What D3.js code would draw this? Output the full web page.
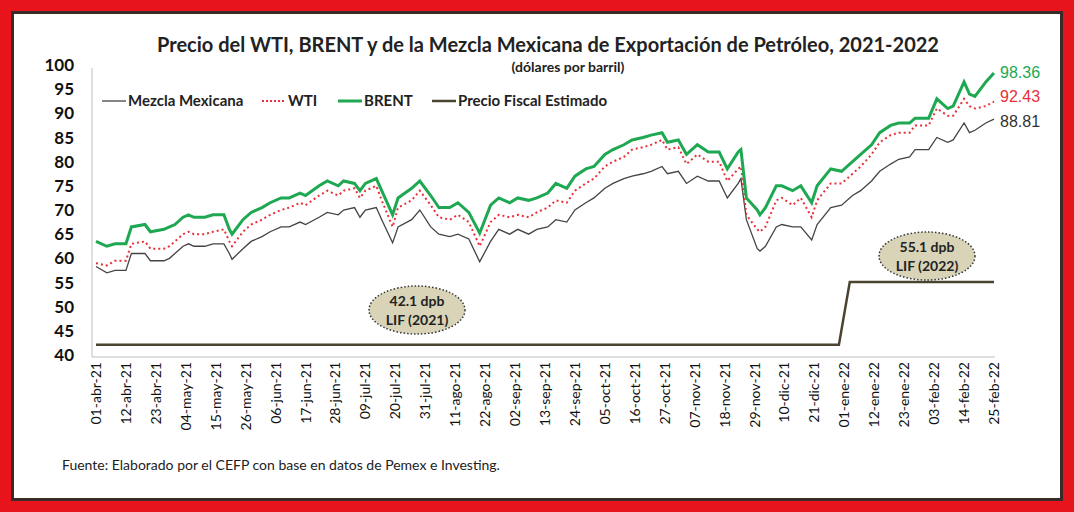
<!DOCTYPE html>
<html><head><meta charset="utf-8">
<script src="https://cdn.jsdelivr.net/npm/d3@7"></script>
<style>body{margin:0;background:#fff;}svg{display:block;font-family:Lato,"Open Sans",sans-serif;}</style>
</head><body><svg id="c" width="1074" height="512"></svg>
<script>
const dates = ["2021-04-01","2021-04-05","2021-04-08","2021-04-12","2021-04-14","2021-04-19","2021-04-21","2021-04-26","2021-04-28","2021-04-30","2021-05-03","2021-05-05","2021-05-07","2021-05-11","2021-05-14","2021-05-18","2021-05-20","2021-05-21","2021-05-25","2021-05-28","2021-06-01","2021-06-04","2021-06-08","2021-06-11","2021-06-15","2021-06-17","2021-06-22","2021-06-25","2021-06-29","2021-07-01","2021-07-05","2021-07-07","2021-07-09","2021-07-13","2021-07-15","2021-07-19","2021-07-21","2021-07-26","2021-07-29","2021-08-02","2021-08-05","2021-08-09","2021-08-12","2021-08-16","2021-08-20","2021-08-24","2021-08-27","2021-08-31","2021-09-03","2021-09-07","2021-09-10","2021-09-14","2021-09-17","2021-09-21","2021-09-24","2021-09-28","2021-10-01","2021-10-05","2021-10-08","2021-10-12","2021-10-15","2021-10-19","2021-10-22","2021-10-26","2021-10-28","2021-11-01","2021-11-04","2021-11-08","2021-11-12","2021-11-16","2021-11-19","2021-11-23","2021-11-24","2021-11-26","2021-11-30","2021-12-01","2021-12-03","2021-12-07","2021-12-09","2021-12-13","2021-12-16","2021-12-20","2021-12-22","2021-12-27","2021-12-31","2022-01-04","2022-01-07","2022-01-11","2022-01-14","2022-01-18","2022-01-21","2022-01-25","2022-01-27","2022-02-01","2022-02-04","2022-02-08","2022-02-10","2022-02-14","2022-02-16","2022-02-18","2022-02-22","2022-02-25"];
const brent = [63.5,62.5,63,63,66.5,67,65.5,66,66.5,67,68.5,69,68.5,68.5,69,69,66,65,68,69.5,70.5,71.5,72.5,72.5,73.5,73,75,76,75,76,75.5,74,75.5,76.5,74,69,72.5,74.5,76,73,70.5,70.5,71.5,69.5,65.2,71,72.5,71.5,72.5,72,72.5,73.5,75.5,74.5,77,78.5,79,81.5,82.5,83.5,84.5,85,85.5,86,84,84.5,81.5,83.5,82,82,78.5,82,82.5,72.5,70,69,70.5,75,75,74,75,71.5,75,78.5,78,80,81.5,83.5,86,87.5,88,88,89,89,93,91,91.5,96.5,94,93.5,96.5,98.36];
const wti = [59,58.5,59.5,59.5,63,63.5,62,62,62.5,63.5,65,65.5,65,65,65.5,66,63.5,62.5,65.5,67,68,69,70,70.5,71.5,71,73,74,73,74,74.5,72.5,74,75,72,66.5,70.5,72,74,71,68.5,68,69,67.5,62.5,67.5,69,68.5,69,68.5,69.5,70.5,72,71.5,74,75.5,76.5,79,80,81,82.5,83,83.5,84.5,82.5,83,79.5,81.5,80,80,76,78.5,79,69,66,65.5,66.5,72,72.5,71,72.5,68.5,72,75.5,75.5,77.5,79,81.5,84,85.5,86,86,87.5,87.5,91,89.5,89.5,93,91.5,91,91.5,92.43];
const mezcla = [58.3,57,57.5,57.5,61,61,59.5,59.5,60,61,62.5,63,62.5,62.5,63,63,61,59.8,62,63.5,64.5,65.5,66.5,66.5,67.5,67,68.5,69.5,69,70,70.5,68.5,70,70.5,68,63.2,66.5,68,70,66.5,65,64.5,65,64,59.3,63.5,66,65,66,65,66,66.5,68,67.5,70,71.5,72.5,74.5,75.5,76.5,77,77.5,78,79,77.5,78,75.5,77,76,76,72.5,75.5,76.5,68,62,61.5,62.5,66.5,67,66.5,66.5,63.8,67,70.5,71,73,74,76,78,79.5,80.5,81,82.5,82.5,85,84,84.5,88,86,86.5,88,88.81];
const fiscalDates = ["2021-04-01","2021-12-30","2022-01-03","2022-02-25"];
const fiscal = [42.1,42.1,55.1,55.1];
const yTicks = [40,45,50,55,60,65,70,75,80,85,90,95,100];
const months = ["ene","feb","mar","abr","may","jun","jul","ago","sep","oct","nov","dic"];

const svg = d3.select("#c");
svg.append("rect").attr("width",1074).attr("height",512).attr("fill","#e8141c");
svg.append("rect").attr("x",11).attr("y",11).attr("width",1052).attr("height",490).attr("fill","#3a2a2a");
svg.append("rect").attr("x",14).attr("y",14).attr("width",1046).attr("height",484).attr("fill","#fff");

const p = d3.timeParse("%Y-%m-%d");
const x = d3.scaleTime().domain([p("2021-04-01"),p("2022-02-25")]).range([96,994]);
const y = d3.scaleLinear().domain([40,100]).range([355,65]);

svg.append("line").attr("x1",92).attr("x2",92).attr("y1",68).attr("y2",357).attr("stroke","#bfbfbf");
svg.append("line").attr("x1",92).attr("x2",995).attr("y1",357).attr("y2",357).attr("stroke","#bfbfbf");
yTicks.forEach(t=>svg.append("text").attr("x",74).attr("y",y(t)+6).attr("text-anchor","end")
  .attr("font-size",17).attr("font-weight","bold").attr("fill","#111").text(t));

const ticks = d3.range(0,31).map(i=>d3.timeDay.offset(p("2021-04-01"),i*11));
ticks.forEach(d=>{
  const lbl = d3.timeFormat("%d")(d)+"-"+months[d.getMonth()]+"-"+d3.timeFormat("%y")(d);
  svg.append("text").attr("transform",`translate(${x(d)+5},362) rotate(-90)`).attr("text-anchor","end")
    .attr("font-size",14).attr("fill","#111").text(lbl);
});

const line = d3.line().x((d,i)=>x(p(dates[i]))).y(d=>y(d));
svg.append("path").attr("d",line(mezcla)).attr("fill","none").attr("stroke","#444").attr("stroke-width",1.3);
svg.append("path").attr("d",line(wti)).attr("fill","none").attr("stroke","#e8303a").attr("stroke-width",2).attr("stroke-dasharray","2,3");
svg.append("path").attr("d",line(brent)).attr("fill","none").attr("stroke","#1ea851").attr("stroke-width",3);
const fl = d3.line().x((d,i)=>x(p(fiscalDates[i]))).y(d=>y(d));
svg.append("path").attr("d",fl(fiscal)).attr("fill","none").attr("stroke","#4a4330").attr("stroke-width",2.5);

[[brent,"#1ea851"],[wti,"#e8303a"],[mezcla,"#333"]].forEach(([s,c],i)=>{
  svg.append("text").attr("x",1000).attr("y",[78,102,127][i]).attr("font-size",16).attr("fill",c)
   .attr("font-family","Liberation Sans, Arial").text(s[s.length-1].toFixed(2));
});

svg.append("text").attr("x",548).attr("y",52).attr("text-anchor","middle").attr("font-size",20).attr("font-weight","bold")
  .attr("fill","#222").text("Precio del WTI, BRENT y de la Mezcla Mexicana de Exportación de Petróleo, 2021-2022");
svg.append("text").attr("x",568).attr("y",72).attr("text-anchor","middle").attr("font-size",14).attr("font-weight","bold")
  .attr("fill","#222").text("(dólares por barril)");

const leg=[["Mezcla Mexicana","#444",1.3,null,102],["WTI","#e8303a",2,"2,2",262],["BRENT","#1ea851",3,null,338],["Precio Fiscal Estimado","#4a4330",2.5,null,432]];
leg.forEach(([t,c,w,da,lx])=>{
  svg.append("line").attr("x1",lx).attr("x2",lx+24).attr("y1",101).attr("y2",101).attr("stroke",c).attr("stroke-width",w).attr("stroke-dasharray",da);
  svg.append("text").attr("x",lx+26).attr("y",106).attr("font-size",15).attr("font-weight","bold").attr("fill","#222").text(t);
});

[[417,310,"42.1 dpb","LIF (2021)"],[927,256,"55.1 dpb","LIF (2022)"]].forEach(([cx,cy,a,b])=>{
  svg.append("ellipse").attr("cx",cx).attr("cy",cy).attr("rx",48).attr("ry",24).attr("fill","#d9d4b8")
    .attr("stroke","#333").attr("stroke-width",1.5).attr("stroke-dasharray","1.5,2");
  svg.append("text").attr("x",cx).attr("y",cy-4).attr("text-anchor","middle").attr("font-size",14).attr("font-weight","bold").attr("fill","#222").text(a);
  svg.append("text").attr("x",cx).attr("y",cy+15).attr("text-anchor","middle").attr("font-size",14).attr("font-weight","bold").attr("fill","#222").text(b);
});

svg.append("text").attr("x",62).attr("y",470).attr("font-size",14).attr("fill","#222")
  .text("Fuente: Elaborado por el CEFP con base en datos de Pemex e Investing.");
</script></body></html>
